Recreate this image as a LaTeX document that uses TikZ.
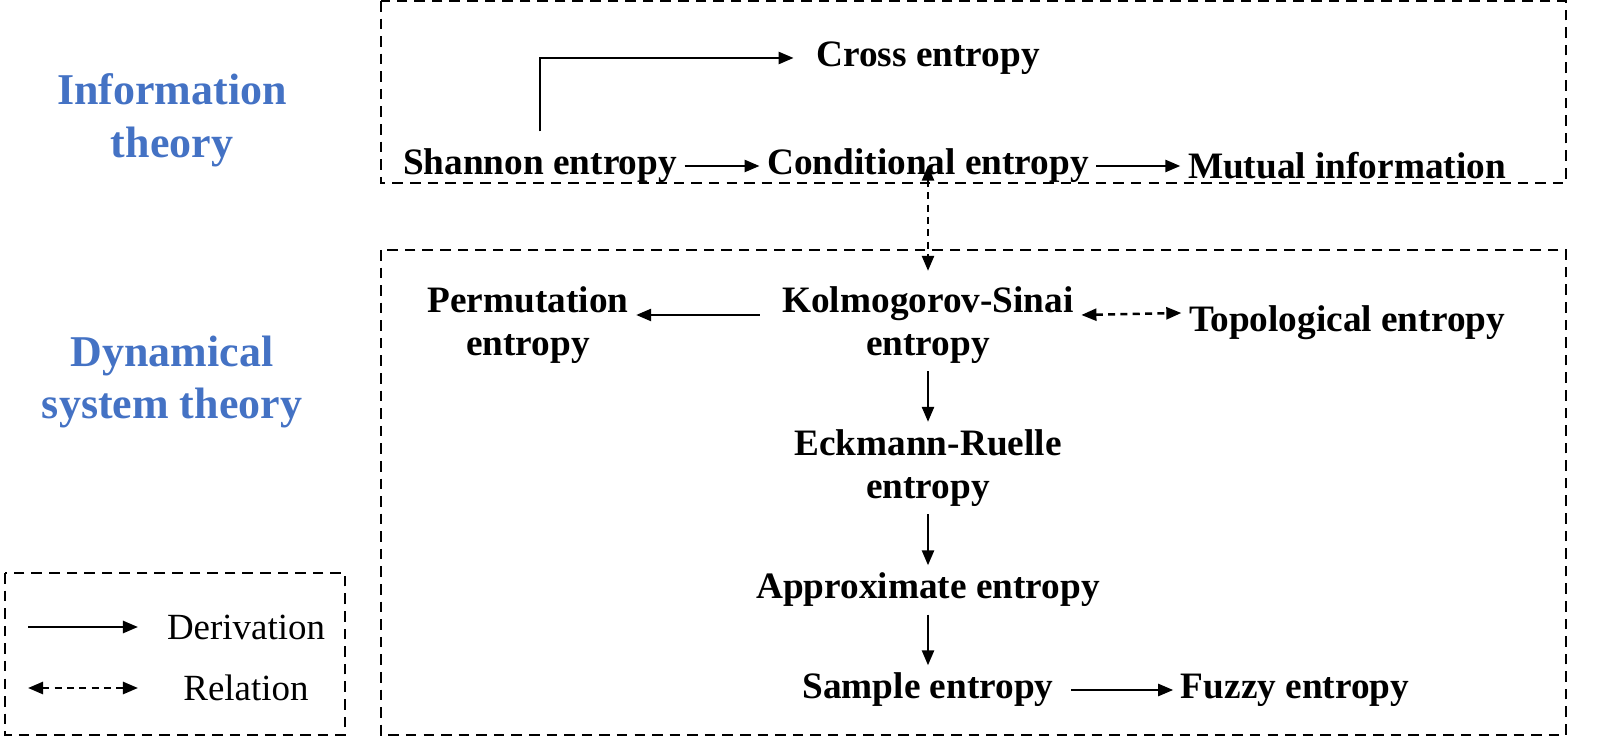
\documentclass[tikz,border=0pt]{standalone}
\usepackage{fontspec}
\setmainfont{Liberation Serif}
\usepackage{xcolor}
\usetikzlibrary{positioning, arrows.meta}
\definecolor{themeblue}{HTML}{4472C4}

\begin{document}
\begin{tikzpicture}[x=0.01cm, y=-0.01cm]

			% Styles
			\tikzset{
				entropy/.style={
					inner sep=2pt, align=center,
					font=\bfseries\fontsize{10.6}{12.2}\selectfont
				},
				theory/.style={
					align=center, text=themeblue,
					font=\bfseries\fontsize{12.5}{15}\selectfont
				},
				legendtext/.style={font=\fontsize{10.5}{12}\selectfont},
				area/.style={draw, line width=0.7pt, dash pattern=on 3pt off 2pt},
				derive/.style={line width=0.7pt, -{Triangle[length=0.15cm, width=0.12cm]}},
				relate/.style={line width=0.7pt, dash pattern=on 2pt off 1.5pt,
					{Triangle[length=0.15cm, width=0.12cm]}-{Triangle[length=0.15cm, width=0.12cm]}}
			}

			% Areas
			\draw[area] (381,1) rectangle (1566,183);
			\draw[area] (381,250) rectangle (1566,735);
			\draw[area] (5,573) rectangle (345,735);

			% Theory labels
			\node (info) [theory] at (172,120) {Information\\theory};
			\node (dyn) [theory] at (172,382) {Dynamical\\system theory};

			% Information theory
			\node (cross) [entropy] at (928,58) {Cross entropy};
			\node (shannon) [entropy] at (540,166) {Shannon entropy};
			\node (cond) [entropy] at (928,166) {Conditional entropy};
			\node (mutual) [entropy] at (1347,166) {Mutual information};

			% Dynamical system theory
			\node (ks) [entropy] at (928,325) {Kolmogorov-Sinai\\entropy};
			\node (perm) [entropy] at (528,325) {Permutation\\entropy};
			\node (topo) [entropy] at (1347,323) {Topological entropy};
			\node (er) [entropy] at (928,468) {Eckmann-Ruelle\\entropy};
			\node (apen) [entropy] at (928,590) {Approximate entropy};
			\node (sampen) [entropy] at (928,690) {Sample entropy};
			\node (fuzzy) [entropy] at (1295,690) {Fuzzy entropy};

			% Arrows
			\draw[derive] ([yshift=0.1cm]shannon.north) |- ([xshift=-0.15cm]cross.west);
			\draw[derive] (shannon) -- (cond);
			\draw[derive] (cond) -- (mutual);
			\draw[relate] ([yshift=0.25cm]cond.south) -- ([yshift=0.08cm]ks.north);
			\draw[derive] ([xshift=-0.15cm,yshift=0.1cm]ks.west) -- ([yshift=0.1cm]perm.east);
			\draw[relate] ([yshift=0.1cm]ks.east) -- ([yshift=0.1cm]topo.west);
			\draw[derive] (ks) -- (er);
			\draw[derive] (er) -- (apen);
			\draw[derive] (apen) -- (sampen);
			\draw[derive] ([xshift=0.1cm]sampen.east) -- (fuzzy);

			% Legend
			\coordinate (d1) at (28,627);
			\coordinate (d2) at (138,627);
			\coordinate (r1) at (28,688);
			\coordinate (r2) at (138,688);
			\draw[derive] (d1) -- (d2);
			\draw[relate] (r1) -- (r2);
			\node (derivation) [legendtext] at (246,627) {Derivation};
			\node (relation) [legendtext] at (246,688) {Relation};

			\pgfresetboundingbox
			\useasboundingbox (0,0) rectangle (1600,752);

\end{tikzpicture}
\end{document}
